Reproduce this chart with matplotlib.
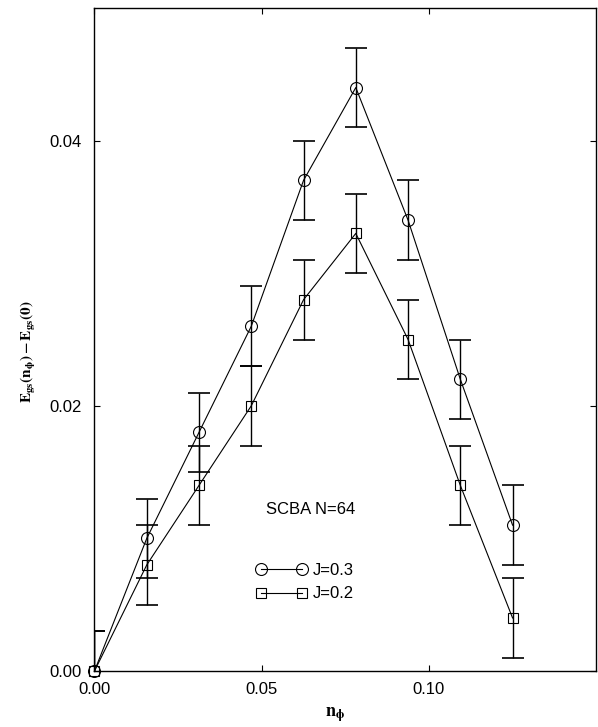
import numpy as np
import matplotlib.pyplot as plt

plt.rcParams['font.family'] = ['Liberation Sans', 'DejaVu Sans']
plt.rcParams['mathtext.fontset'] = 'stix'

# data
n_phi = [0.0, 1/64, 2/64, 3/64, 4/64, 5/64, 6/64, 7/64, 8/64]
e_j03 = [0.0, 0.010, 0.018, 0.026, 0.037, 0.044, 0.034, 0.022, 0.011]
e_j02 = [0.0, 0.008, 0.014, 0.020, 0.028, 0.033, 0.025, 0.014, 0.004]
err_j03 = [0.003] * 9
err_j02 = [0.003] * 9

fig = plt.figure(figsize=(5.98, 7.27), dpi=100)
ax = fig.add_axes([0.158, 0.077, 0.839, 0.912])

# error bars (clipped at the axes)
ax.errorbar(n_phi, e_j03, yerr=err_j03, fmt='none', ecolor='black',
            elinewidth=1.0, capsize=8, capthick=1.2)
ax.errorbar(n_phi, e_j02, yerr=err_j02, fmt='none', ecolor='black',
            elinewidth=1.0, capsize=8, capthick=1.2)

ax.plot(n_phi, e_j03, '-o', color='black', lw=0.8, ms=8.6, mfc='none',
        mew=0.8, clip_on=False, label='J=0.3', zorder=3)
ax.plot(n_phi, e_j02, '-s', color='black', lw=0.8, ms=7.2, mfc='none',
        mew=0.8, clip_on=False, label='J=0.2', zorder=3)

ax.set_xlim(0, 0.15)
ax.set_ylim(0, 0.05)
ax.set_xticks([0.0, 0.05, 0.10])
ax.set_yticks([0.0, 0.02, 0.04])
ax.set_xticklabels(['0.00', '0.05', '0.10'])
ax.set_yticklabels(['0.00', '0.02', '0.04'])
ax.tick_params(direction='in', length=4, width=0.8, labelsize=12,
               top=True, right=True)
ax.tick_params(axis='x', pad=8)
ax.tick_params(axis='y', pad=9)

ax.text(0.0645, 0.0122, 'SCBA N=64', fontsize=12, ha='center', va='center')

ax.legend(loc='center left', bbox_to_anchor=(0.321, 0.134), frameon=False,
          numpoints=2, handlelength=3.1, handletextpad=0.35,
          labelspacing=0.5, borderpad=0, borderaxespad=0, fontsize=12)

ax.set_xlabel(r'$\mathbf{n_{\phi}}$', fontsize=13)
ax.set_ylabel(r'$\mathbf{E_{gs}(n_{\phi})-E_{gs}(0)}$', fontsize=11)
ax.xaxis.set_label_coords(0.48, -0.052)
ax.yaxis.set_label_coords(-0.112, 0.481)

for s in ax.spines.values():
    s.set_linewidth(1.0)

fig.savefig('out.png', dpi=100)
